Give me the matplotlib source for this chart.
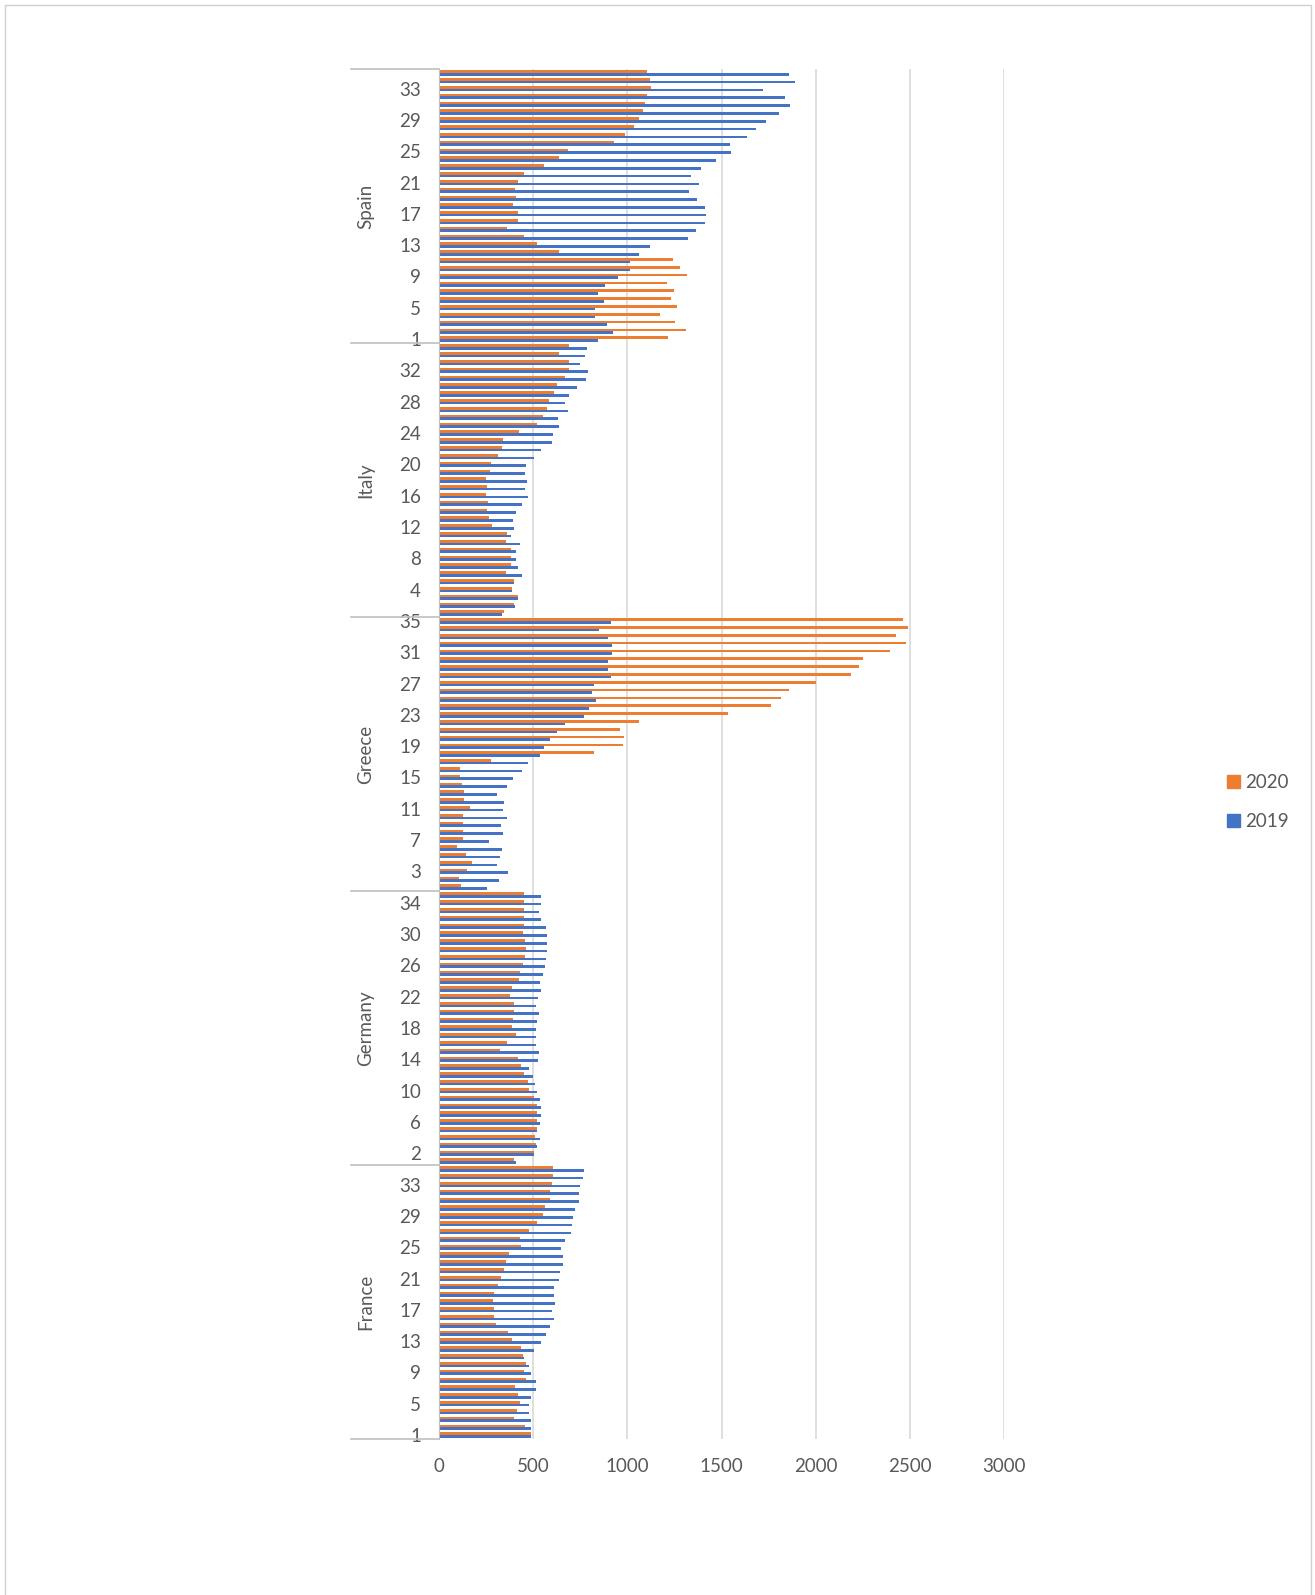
import numpy as np
import matplotlib
matplotlib.use("Agg")
import matplotlib.pyplot as plt
from matplotlib.patches import Rectangle, Patch

plt.rcParams['font.family'] = ['Lato', 'DejaVu Sans']

# countries from bottom to top, weekly values for weeks 1..35
countries = ["France", "Germany", "Greece", "Italy", "Spain"]
weeks = list(range(1, 36))

france_2020 = [486, 457, 399, 415, 431, 420, 406, 461, 450, 461, 447, 433, 390, 369, 305, 294, 293, 287,
               293, 314, 328, 344, 358, 372, 433, 429, 479, 518, 553, 562, 589, 592, 601, 606, 606]
france_2019 = [486, 486, 486, 479, 479, 488, 514, 514, 491, 479, 452, 504, 544, 566, 592, 610, 601, 615,
               608, 608, 635, 642, 656, 656, 649, 668, 702, 707, 713, 723, 745, 745, 748, 762, 771]

germany_2020 = [400, 504, 514, 509, 518, 521, 521, 518, 504, 479, 475, 452, 433, 420, 326, 362, 408, 390,
                394, 397, 397, 376, 385, 424, 429, 447, 457, 461, 456, 447, 450, 450, 452, 450, 450]
germany_2019 = [408, 505, 518, 536, 523, 536, 544, 544, 536, 521, 511, 500, 479, 527, 532, 514, 514, 514,
                523, 532, 514, 527, 543, 535, 553, 564, 566, 571, 576, 571, 567, 539, 532, 541, 544]

greece_2020 = [118, 106, 147, 175, 145, 98, 129, 129, 125, 125, 165, 131, 135, 122, 112, 112, 275, 824,
               975, 980, 959, 1063, 1537, 1765, 1818, 1857, 2004, 2190, 2229, 2249, 2396, 2480, 2425, 2490, 2465]
greece_2019 = [253, 318, 369, 310, 324, 333, 265, 339, 327, 363, 339, 345, 310, 363, 392, 439, 475, 537,
               559, 588, 625, 671, 769, 798, 835, 812, 824, 912, 896, 896, 916, 916, 896, 847, 912]

italy_2020 = [346, 399, 417, 390, 399, 355, 381, 381, 381, 355, 363, 280, 266, 254, 262, 248, 254, 248,
              270, 278, 314, 337, 340, 426, 523, 550, 571, 582, 612, 629, 670, 691, 688, 635, 688]
italy_2019 = [337, 402, 422, 390, 399, 440, 422, 411, 408, 429, 381, 399, 394, 408, 440, 470, 457, 465,
              456, 461, 505, 539, 598, 606, 638, 633, 684, 670, 691, 732, 780, 791, 750, 775, 784]

spain_2020 = [1215, 1309, 1255, 1174, 1262, 1232, 1250, 1209, 1316, 1280, 1245, 635, 518, 449, 360, 417, 422, 394,
              411, 404, 418, 449, 559, 635, 683, 927, 989, 1037, 1064, 1082, 1092, 1103, 1128, 1121, 1103]
spain_2019 = [846, 922, 892, 828, 828, 874, 846, 881, 950, 1016, 1016, 1064, 1121, 1321, 1362, 1413, 1418, 1410,
              1369, 1326, 1379, 1339, 1392, 1472, 1553, 1546, 1635, 1684, 1738, 1805, 1865, 1835, 1723, 1888, 1858]

xticks = [0, 500, 1000, 1500, 2000, 2500, 3000]

orange = "#ED7D31"
blue = "#4472C4"
grey_text = "#595959"
grid_col = "#d9d9d9"

vals_2020 = np.array(france_2020 + germany_2020 + greece_2020 + italy_2020 + spain_2020)
vals_2019 = np.array(france_2019 + germany_2019 + greece_2019 + italy_2019 + spain_2019)
n_weeks = len(weeks)
pos = np.arange(len(vals_2020))

fig = plt.figure(figsize=(13.15, 15.95), dpi=100)
ax = fig.add_axes([439 / 1315, 1 - 1439 / 1595, 565 / 1315, 1370 / 1595])

# outer frame like the excel chart border
fig.patches.append(Rectangle((5 / 1315, -0.01), 1306 / 1315, 1 - 5 / 1595 + 0.01,
                             transform=fig.transFigure, fill=False, edgecolor="#d0d0d0", linewidth=1))

bh = 0.34
ax.barh(pos - bh / 2, vals_2019, height=bh, color=blue, label="2019")
ax.barh(pos + bh / 2, vals_2020, height=bh, color=orange, label="2020")

ax.set_xlim(0, 3000)
ax.set_ylim(-0.5, len(pos) - 0.5)
ax.set_xticks(xticks)
ax.set_xticklabels([str(t) for t in xticks])
ax.xaxis.grid(True, color=grid_col, linewidth=1.2)
ax.set_axisbelow(True)

# every fourth week label, counting through all countries
tick_pos = pos[::4]
ax.set_yticks(tick_pos)
ax.set_yticklabels([str(weeks[p % n_weeks]) for p in tick_pos])
ax.tick_params(axis="both", length=0, labelsize=13.5, labelcolor=grey_text)
ax.tick_params(axis="y", pad=13)
ax.tick_params(axis="x", pad=14)

for s in ["top", "right", "bottom"]:
    ax.spines[s].set_visible(False)
ax.spines["left"].set_color("#bfbfbf")

# country group separators and labels
ytr = ax.get_yaxis_transform()
for k, c in enumerate(countries):
    lo = k * n_weeks - 0.5
    ax.plot([-0.156, 0], [lo, lo], color="#bfbfbf", linewidth=1.2, transform=ytr, clip_on=False)
    ax.text(-0.129, lo + n_weeks / 2, c, rotation=90, ha="center", va="center",
            fontsize=13.5, color=grey_text, transform=ytr)
top = len(countries) * n_weeks - 0.5
ax.plot([-0.156, 0], [top, top], color="#bfbfbf", linewidth=1.2, transform=ytr, clip_on=False)

handles = [Patch(color=orange, label="2020"), Patch(color=blue, label="2019")]
fig.legend(handles=handles, loc="center", bbox_to_anchor=(1258 / 1315, 1 - 802 / 1595),
           frameon=False, fontsize=13.5, labelcolor=grey_text, handlelength=0.7, handleheight=0.7,
           handletextpad=0.3, labelspacing=1.2)

plt.savefig("out.png", dpi=100)
